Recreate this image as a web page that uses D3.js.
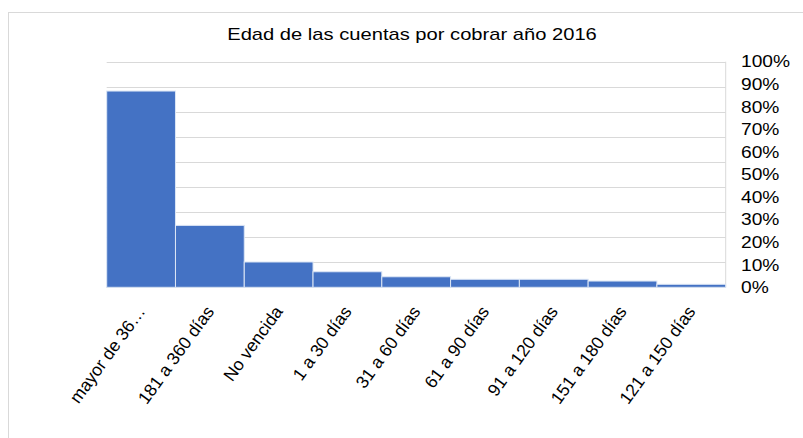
<!DOCTYPE html>
<html>
<head>
<meta charset="utf-8">
<script src="https://cdn.jsdelivr.net/npm/d3@7"></script>
<style>
  body { margin: 0; background: #fff; }
  text { font-family: "Liberation Sans", Arial, sans-serif; fill: #000; }
</style>
</head>
<body>
<script>
// categories (already sorted, pareto style)
var categorias = ["mayor de 360 días", "181 a 360 días", "No vencida", "1 a 30 días",
                  "31 a 60 días", "61 a 90 días", "91 a 120 días", "151 a 180 días", "121 a 150 días"];
var etiquetas = ["mayor de 36\u2026", "181 a 360 días", "No vencida", "1 a 30 días",
                 "31 a 60 días", "61 a 90 días", "91 a 120 días", "151 a 180 días", "121 a 150 días"];
// bar values on the hidden primary axis
var valores = [783, 247, 101, 62, 42, 32, 32, 25, 12];
var maxPrimario = 900;
var ticksPct = [0, 0.1, 0.2, 0.3, 0.4, 0.5, 0.6, 0.7, 0.8, 0.9, 1];
var titulo = "Edad de las cuentas por cobrar año 2016";

var W = 803, H = 438;
var pLeft = 106.7, pRight = 725.7, pTop = 61.7, pBottom = 287.3;

var svg = d3.select("body").append("svg")
  .attr("width", W).attr("height", H);

// chart frame
svg.append("rect")
  .attr("x", 8.5).attr("y", 12.5)
  .attr("width", W + 20).attr("height", H + 20)
  .attr("fill", "#fff").attr("stroke", "#d9d9d9").attr("stroke-width", 1);

var x = d3.scaleBand().domain(categorias).range([pLeft, pRight]).padding(0);
var y = d3.scaleLinear().domain([0, maxPrimario]).range([pBottom, pTop]);
var yPct = d3.scaleLinear().domain([0, 1]).range([pBottom, pTop]);

// gridlines from primary axis
svg.append("g").selectAll("line")
  .data(y.ticks(9))
  .enter().append("line")
  .attr("x1", pLeft).attr("x2", pRight)
  .attr("y1", function(d) { return Math.round(y(d)) + 0.5; })
  .attr("y2", function(d) { return Math.round(y(d)) + 0.5; })
  .attr("stroke", "#d9d9d9").attr("stroke-width", 1);

// right edge line
svg.append("line")
  .attr("x1", pRight).attr("x2", pRight)
  .attr("y1", pTop).attr("y2", pBottom)
  .attr("stroke", "#d9d9d9").attr("stroke-width", 1);

// bars
svg.append("g").selectAll("rect")
  .data(valores)
  .enter().append("rect")
  .attr("x", function(d, i) { return x(categorias[i]); })
  .attr("width", x.bandwidth())
  .attr("y", function(d) { return y(d); })
  .attr("height", function(d) { return pBottom - y(d); })
  .attr("fill", "#4472c4")
  .attr("stroke", "#dce6f5").attr("stroke-width", 1);

// secondary percent axis (right)
svg.append("g").selectAll("text")
  .data(ticksPct)
  .enter().append("text")
  .attr("transform", function(d) { return "translate(741," + yPct(d) + ") scale(1.2,1)"; })
  .attr("dy", "0.36em")
  .style("font-size", "16px")
  .text(function(d) { return d3.format(".0%")(d); });

// category labels
svg.append("g").selectAll("text")
  .data(etiquetas)
  .enter().append("text")
  .attr("transform", function(d, i) {
    var cx = x(categorias[i]) + x.bandwidth() / 2;
    return "translate(" + cx + ",308) rotate(-54)";
  })
  .attr("text-anchor", "end")
  .attr("dy", "0.35em")
  .style("font-size", "17.5px")
  .text(function(d) { return d; });

// title
svg.append("text")
  .attr("transform", "translate(412,40) scale(1.26,1)")
  .attr("text-anchor", "middle")
  .style("font-size", "16px")
  .text(titulo);
</script>
</body>
</html>
